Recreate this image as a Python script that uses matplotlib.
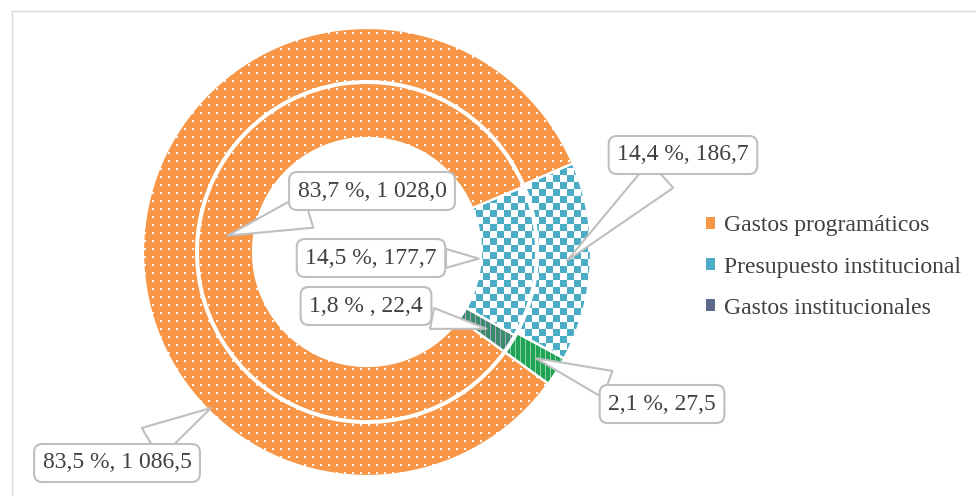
import numpy as np
import matplotlib
matplotlib.use("Agg")
import matplotlib.pyplot as plt
from matplotlib.patches import Patch, Rectangle

# data
categories = ["Gastos programáticos", "Presupuesto institucional", "Gastos institucionales"]
outer_vals = [1086.5, 186.7, 27.5]
inner_vals = [1028.0, 177.7, 22.4]
outer_txt = ["83,5 %, 1 086,5", "14,4 %, 186,7", "2,1 %, 27,5"]
inner_txt = ["83,7 %, 1 028,0", "14,5 %, 177,7", "1,8 % , 22,4"]

plt.rcParams['font.family'] = ['Liberation Serif', 'DejaVu Serif']
W, H = 976, 496
cx, cy, unit = 367, 252, 224.0
fig = plt.figure(figsize=(W / 100, H / 100), dpi=100)
ax = fig.add_axes([0, 0, 1, 1])
x0, x1 = -cx / unit, (W - cx) / unit
y0, y1 = -(H - cy) / unit, cy / unit
ax.set_aspect('equal')
ax.axis('off')

ORANGE = "#F79646"
BLUE = "#4BACC6"
GREEN_OUT = "#1FA456"
GREEN_IN = "#3A8C6C"
TXT = "#404040"

R_out, w_out = 1.0, 0.237
R_in, w_in = 0.755, 0.246


def rgb(h):
    h = h.lstrip('#')
    return np.array([int(h[i:i + 2], 16) for i in (0, 2, 4)], dtype=float) / 255


yy, xx = np.mgrid[0:H, 0:W]


def tex_dots(bg, fg, step=8):
    a = np.tile(rgb(bg), (H, W, 1))
    m = (xx % step < 2) & (yy % step < 2)
    a[m] = rgb(fg)
    return a


def tex_checker(c, cell=7):
    a = np.ones((H, W, 3))
    m = ((xx // cell + yy // cell) % 2) == 0
    a[m] = rgb(c)
    return a


def tex_stripes(c, light, period=5):
    a = np.tile(rgb(c), (H, W, 1))
    a[xx % period == 0] = rgb(light)
    return a


textures_out = [tex_dots(ORANGE, "#FFFFFF"), tex_checker(BLUE), tex_stripes(GREEN_OUT, "#8FD0A8")]
textures_in = [tex_dots(ORANGE, "#FFFFFF"), tex_checker(BLUE), tex_stripes(GREEN_IN, "#A9A6C4")]

start = -36
rings = []
for vals, R, w, cols, texs in [
    (outer_vals, R_out, w_out, [ORANGE, BLUE, GREEN_OUT], textures_out),
    (inner_vals, R_in, w_in, [ORANGE, BLUE, GREEN_IN], textures_in),
]:
    wedges, _ = ax.pie(vals, radius=R, startangle=start, counterclock=False,
                       colors=cols, wedgeprops=dict(width=w, edgecolor='none'))
    for wd, t in zip(wedges, texs):
        im = ax.imshow(t, extent=(x0, x1, y0, y1), origin='upper',
                       interpolation='nearest', zorder=2)
        im.set_clip_path(wd)
    ow, _ = ax.pie(vals, radius=R, startangle=start, counterclock=False,
                   wedgeprops=dict(width=w, facecolor='none', edgecolor='white', linewidth=1.6))
    for o in ow:
        o.set_zorder(3)
    rings.append(wedges)
ax.set_xlim(x0, x1)
ax.set_ylim(y0, y1)


def px(x, y):
    return ((x - cx) / unit, (cy - y) / unit)


# label boxes (pixel positions) and leader anchor radius / optional angle
outer_box = [px(117, 463), px(683, 155), px(662, 404)]
inner_box = [px(372, 191), px(371, 258), px(366, 306)]
outer_anchor = [(0.985, 225), (0.893, None), (0.89, None)]
inner_anchor = [(0.627, None), (0.50, None), (0.634, None)]
tails = [[1.5, 1.5, 1.2], [1.5, 0.8, 0.9]]

bbox = dict(boxstyle="round,pad=0.36,rounding_size=0.35", fc="white", ec="#BFBFBF", lw=1.5)
for k, (wedges, txts, boxes, anchors) in enumerate([(rings[0], outer_txt, outer_box, outer_anchor),
                                                    (rings[1], inner_txt, inner_box, inner_anchor)]):
    for wd, t, b, (r, ang), tw in zip(wedges, txts, boxes, anchors, tails[k]):
        if ang is None:
            ang = (wd.theta1 + wd.theta2) / 2
        a = np.deg2rad(ang)
        ax.annotate(t, xy=(r * np.cos(a), r * np.sin(a)), xytext=b,
                    ha='center', va='center', fontsize=17, color=TXT, bbox=bbox, zorder=5,
                    arrowprops=dict(arrowstyle="wedge,tail_width=%g,shrink_factor=0.5" % tw,
                                    fc="white", ec="#BFBFBF", lw=1.5, shrinkA=0, shrinkB=0))

handles = [Patch(fc=ORANGE), Patch(fc=BLUE), Patch(fc="#5E6A8C")]
fig.legend(handles, categories, loc='center left', bbox_to_anchor=(706 / W, 1 - 267 / H),
           frameon=False, fontsize=17, labelcolor=TXT, handlelength=0.4, handleheight=0.4,
           handletextpad=0.35, labelspacing=0.85, borderpad=0, borderaxespad=0)

fig.add_artist(Rectangle((12 / W, -0.05), 1.2, 1.05 - 11 / H, transform=fig.transFigure,
                         fill=False, ec="#D9D9D9", lw=1))

fig.savefig("out.png", dpi=100)
